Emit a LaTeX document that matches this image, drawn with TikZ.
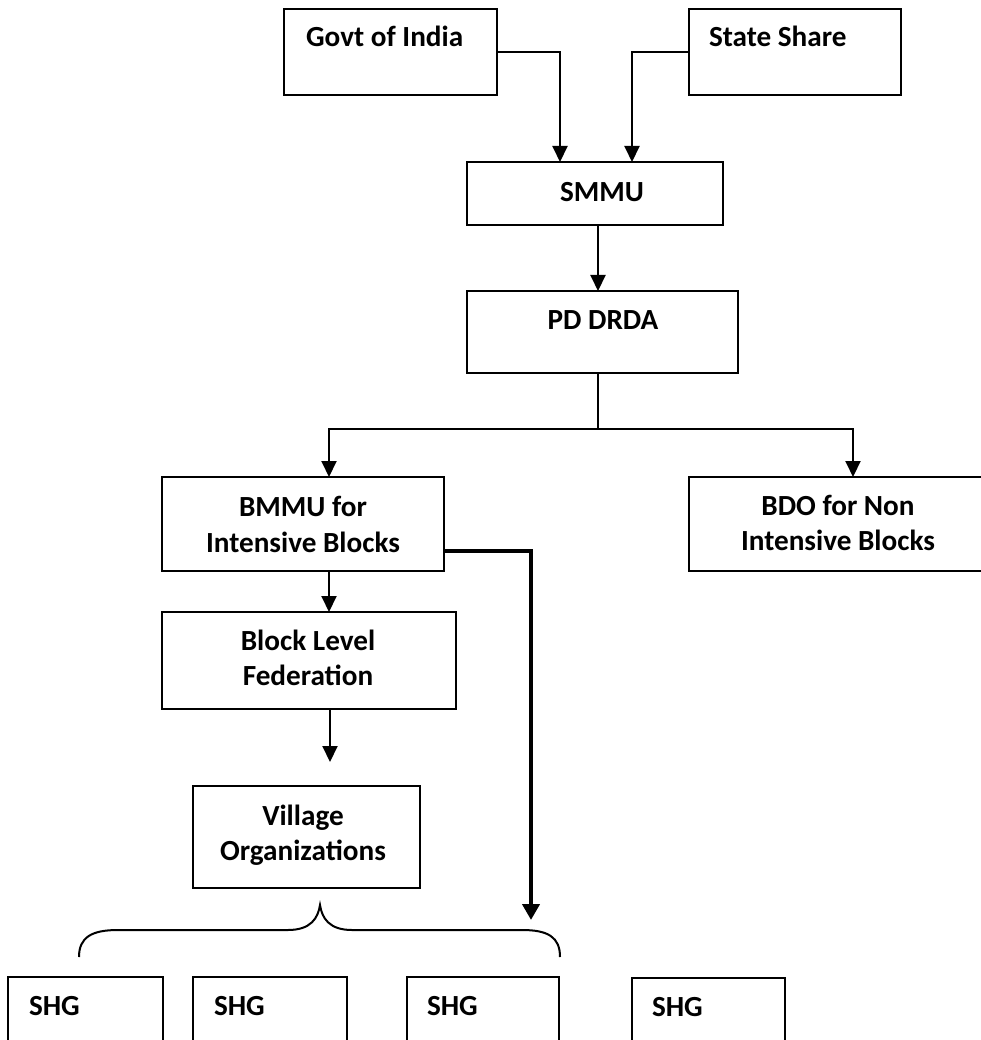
\documentclass[tikz,border=0pt]{standalone}
\usepackage{fontspec}
\setmainfont{Carlito}
\usetikzlibrary{arrows.meta,calc}
\begin{document}
\begin{tikzpicture}[x=1pt,y=-1pt,
  box/.style={draw=black, line width=2pt, rectangle, anchor=north west, inner sep=0pt, outer sep=0pt},
  txt/.style={inner sep=0pt, outer sep=0pt, font=\fontsize{29.2}{35}\selectfont\bfseries, text=black},
  line/.style={draw=black, line width=2pt},
  arr/.style={draw=black, line width=2pt, -{Triangle[width=15pt,length=16pt]}},
  thickarr/.style={draw=black, line width=4pt, -{Triangle[width=17pt,length=16pt]}}]
\useasboundingbox (0,0) rectangle (981,1040);
\clip (0,0) rectangle (981,1040);
\fill[white] (0,0) rectangle (981,1040);

% boxes
\node[box, minimum width=213pt, minimum height=86pt] (govt) at (284,9) {};
\node[box, minimum width=212pt, minimum height=86pt] (state) at (689,9) {};
\node[box, minimum width=256pt, minimum height=63pt] (smmu) at (467,162) {};
\node[box, minimum width=271pt, minimum height=82pt] (pd) at (467,291) {};
\node[box, minimum width=282pt, minimum height=94pt] (bmmu) at (162,477) {};
\node[box, minimum width=320pt, minimum height=94pt] (bdo) at (689,477) {};
\node[box, minimum width=294pt, minimum height=97pt] (blf) at (162,612) {};
\node[box, minimum width=227pt, minimum height=102pt] (vo) at (193,786) {};
\node[box, minimum width=155pt, minimum height=100pt] (shga) at (8,977) {};
\node[box, minimum width=154pt, minimum height=100pt] (shgb) at (193,977) {};
\node[box, minimum width=152pt, minimum height=100pt] (shgc) at (407,977) {};
\node[box, minimum width=153pt, minimum height=100pt] (shgd) at (632,978) {};

% texts
\node[txt, anchor=base west] (tgovt) at (306,47) {Govt of India};
\node[txt, anchor=base west] (tstate) at (709,47) {State Share};
\node[txt, anchor=base] (tsmmu) at (602,202) {SMMU};
\node[txt, anchor=base] (tpd) at (603,329) {PD DRDA};
\node[txt, anchor=base] (tbmmua) at (303,516) {BMMU for};
\node[txt, anchor=base] (tbmmub) at (303,552) {Intensive Blocks};
\node[txt, anchor=base] (tbdoa) at (838,515) {BDO for Non};
\node[txt, anchor=base] (tbdob) at (838,550) {Intensive Blocks};
\node[txt, anchor=base] (tblfa) at (308,650) {Block Level};
\node[txt, anchor=base] (tblfb) at (308,685) {Federation};
\node[txt, anchor=base] (tvoa) at (303,825) {Village};
\node[txt, anchor=base] (tvob) at (303,860) {Organizations};
\node[txt, anchor=base west] (tshga) at (29,1015) {SHG};
\node[txt, anchor=base west] (tshgb) at (214,1015) {SHG};
\node[txt, anchor=base west] (tshgc) at (427,1015) {SHG};
\node[txt, anchor=base west] (tshgd) at (652,1016) {SHG};

% connector coordinates
\coordinate (split) at (598,429);
\coordinate (voin) at (330,762);
\coordinate (shgin) at (531,920);

% connectors
\draw[arr] (govt.east) -| ([xshift=-35pt]smmu.north);
\draw[arr] (state.west) -| ([xshift=37pt]smmu.north);
\draw[arr] ([xshift=3pt]smmu.south) -- ([xshift=3pt]smmu.south |- pd.north);
\draw[line] ([xshift=-4.5pt]pd.south) -- (split);
\draw[arr] (split) -| ([xshift=26pt]bmmu.north);
\draw[arr] (split) -| ([xshift=164pt]bdo.north west);
\draw[arr] ([xshift=26pt]bmmu.south) -- ([xshift=26pt]bmmu.south |- blf.north);
\draw[arr] ([xshift=21pt]blf.south) -- (voin);
\draw[thickarr] ([yshift=-27pt]bmmu.east) -| (shgin);

% brace
\draw[line] (79,957) .. controls (79,937) and (92,930) .. (118,930) -- (288,930)
  .. controls (311,930) and (318,918) .. (320,905)
  .. controls (322,918) and (329,930) .. (352,930) -- (522,930)
  .. controls (548,930) and (560,937) .. (560,957);
\end{tikzpicture}
\end{document}
